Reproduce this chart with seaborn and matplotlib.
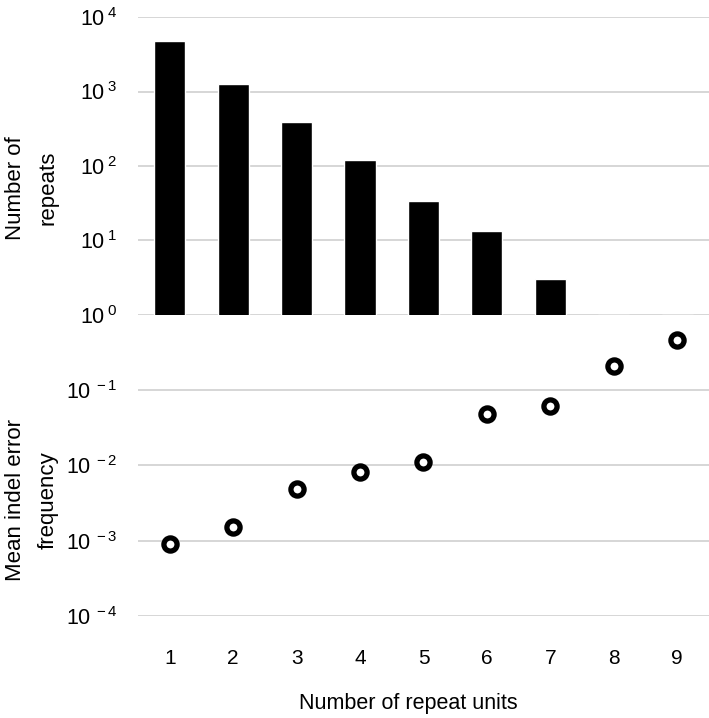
import numpy as np
import pandas as pd
import matplotlib
matplotlib.use('Agg')
import matplotlib.pyplot as plt
import seaborn as sns
from matplotlib.ticker import NullLocator

# Data
repeat_units = [1, 2, 3, 4, 5, 6, 7, 8, 9]
repeat_counts = [4800, 1280, 390, 122, 34, 13.4, 3.0, 1.0, 1.0]
indel_freq = [0.0009, 0.0015, 0.0048, 0.0083, 0.011, 0.049, 0.061, 0.21, 0.46]
count_exps = [0, 1, 2, 3, 4]
freq_exps = [-4, -3, -2, -1]

# Style
sns.set_style('white')
plt.rcParams['font.family'] = ['Liberation Sans', 'DejaVu Sans']
plt.rcParams['mathtext.fontset'] = 'custom'
plt.rcParams['mathtext.rm'] = 'Liberation Sans'
plt.rcParams['mathtext.it'] = 'Liberation Sans:italic'
plt.rcParams['mathtext.default'] = 'regular'
plt.rcParams['text.color'] = 'black'
plt.rcParams['xtick.color'] = 'black'
plt.rcParams['ytick.color'] = 'black'

GRID = '#d6d6d6'

fig = plt.figure(figsize=(7.09, 7.18), dpi=100)
ax_top = fig.add_axes([0.1946, 0.5613, 0.8054, 0.4150])
ax_bot = fig.add_axes([0.1946, 0.1421, 0.8054, 0.4192])

# Top: number of repeats (bars)
ax_top.set_yscale('log')
sns.barplot(x=repeat_units, y=repeat_counts, native_scale=True, width=0.49,
            color='black', saturation=1, ax=ax_top)
ax_top.set_ylim(1, 1e4)

# Bottom: mean indel error frequency (open circles)
ax_bot.set_yscale('log')
sns.scatterplot(x=repeat_units, y=indel_freq, ax=ax_bot, s=90, marker='o',
                facecolor='white', edgecolor='black', linewidth=3.8, zorder=3)
ax_bot.set_ylim(1e-4, 1)

for ax, exps in [(ax_top, count_exps), (ax_bot, freq_exps)]:
    ax.set_xlim(0.5, 9.5)
    ax.set_yticks([10.0 ** e for e in exps],
                  [f'$10^{{\\;{e}}}$' for e in exps])
    ax.yaxis.set_minor_locator(NullLocator())
    ax.tick_params(axis='y', length=0, pad=15, labelsize=15.5, labelcolor='black')
    ax.yaxis.grid(True, color=GRID, lw=1.4)
    ax.xaxis.grid(False)
    ax.set_axisbelow(True)
    for s in ax.spines.values():
        s.set_visible(False)
    ax.set_xlabel('')
    ax.set_ylabel('')

ax_top.set_xticks([])
ax_bot.set_xticks(repeat_units, [str(u) for u in repeat_units])
ax_bot.tick_params(axis='x', length=0, pad=24, labelsize=15, labelcolor='black')

# Axis titles
fig.text(0.045, 1 - 188 / 718, 'Number of\nrepeats', rotation=90, ha='center',
         va='center', fontsize=16, linespacing=1.7, multialignment='center')
fig.text(0.045, 1 - 500 / 718, 'Mean indel error\nfrequency', rotation=90,
         ha='center', va='center', fontsize=16, linespacing=1.7,
         multialignment='center')
fig.text(408 / 709, 1 - 703 / 718, 'Number of repeat units', ha='center',
         va='center', fontsize=15.5)

plt.savefig('out.png', dpi=100)
plt.close()
